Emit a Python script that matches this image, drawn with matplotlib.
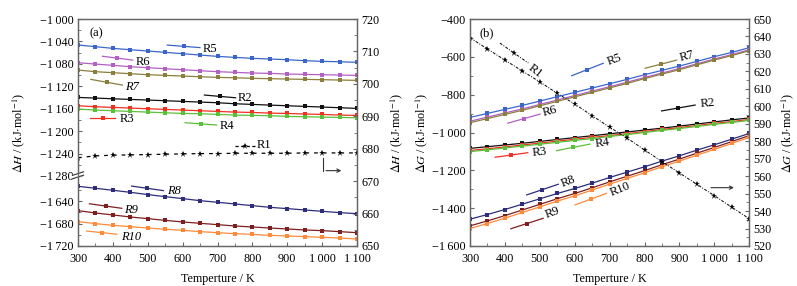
import numpy as np
import matplotlib
matplotlib.use("Agg")
from matplotlib import pyplot as plt
from matplotlib.ticker import FixedLocator

plt.rcParams['font.family'] = ['Liberation Serif', 'DejaVu Serif']
plt.rcParams['mathtext.fontset'] = 'stix'
plt.rcParams['font.size'] = 8.7

T = [300, 350, 400, 450, 500, 550, 600, 650, 700, 750, 800, 850, 900, 950, 1000, 1050, 1100]

# panel (a): enthalpy, left axis (broken) and right axis for R1
dH_R5 = [-1046.4, -1049.4, -1052.4, -1054.8, -1057.1, -1059.5, -1061.9, -1064.3, -1066.7,
         -1068.5, -1070.2, -1071.4, -1072.6, -1074.4, -1075.6, -1076.2, -1077.4]
dH_R6 = [-1078.0, -1080.4, -1082.7, -1085.1, -1086.9, -1088.7, -1090.5, -1092.3, -1094.0,
         -1095.2, -1096.4, -1097.0, -1098.2, -1098.8, -1099.4, -1100.0, -1100.6]
dH_R7 = [-1091.1, -1094.0, -1095.8, -1097.6, -1099.4, -1100.6, -1101.8, -1103.0, -1104.2,
         -1104.8, -1105.9, -1106.5, -1107.1, -1107.7, -1108.3, -1108.9, -1109.5]
dH_R2 = [-1139.9, -1141.1, -1142.3, -1143.5, -1144.6, -1145.8, -1147.0, -1148.2, -1149.4,
         -1151.2, -1152.4, -1153.6, -1154.8, -1155.9, -1157.1, -1158.3, -1159.5]
dH_R3 = [-1154.8, -1156.5, -1157.7, -1158.9, -1160.1, -1161.3, -1162.5, -1163.7, -1164.9,
         -1166.1, -1166.7, -1167.9, -1168.5, -1169.6, -1170.2, -1171.4, -1172.0]
dH_R4 = [-1160.7, -1162.5, -1163.7, -1164.9, -1166.1, -1167.3, -1168.5, -1169.0, -1170.2,
         -1171.4, -1172.0, -1172.6, -1173.8, -1174.4, -1175.0, -1175.6, -1176.2]
dH_R8 = [-1613.5, -1617.0, -1620.6, -1624.2, -1628.3, -1631.9, -1635.5, -1639.1, -1642.0,
         -1645.0, -1648.0, -1651.0, -1653.3, -1655.7, -1658.1, -1660.5, -1662.3]
dH_R9 = [-1656.9, -1661.1, -1664.6, -1668.2, -1671.2, -1674.2, -1677.1, -1679.5, -1681.9,
         -1684.3, -1686.1, -1687.9, -1689.6, -1691.4, -1692.6, -1694.4, -1696.2]
dH_R10 = [-1676.5, -1680.1, -1683.1, -1685.5, -1687.9, -1690.2, -1692.0, -1694.4, -1696.2,
          -1698.0, -1699.2, -1701.0, -1702.1, -1703.3, -1704.5, -1705.7, -1707.5]
dH_R1 = [677.2, 677.8, 678.0, 678.1, 678.2, 678.3, 678.4, 678.5, 678.5,
         678.6, 678.6, 678.6, 678.6, 678.7, 678.7, 678.7, 678.7]

# panel (b): Gibbs energy, left axis and right axis for R1
dG_R5 = [-920.3, -899.1, -877.9, -856.8, -833.9, -810.9, -788.0, -765.1, -742.2,
         -719.2, -694.5, -671.6, -648.7, -624.0, -599.3, -576.4, -551.7]
dG_R6 = [-940.3, -918.5, -896.8, -875.1, -851.7, -828.1, -804.6, -781.2, -757.7,
         -734.1, -708.9, -685.4, -662.0, -636.7, -611.4, -588.0, -562.7]
dG_R7 = [-948.3, -926.4, -904.4, -882.6, -858.9, -835.2, -811.5, -787.9, -764.2,
         -740.5, -715.0, -691.4, -667.7, -642.3, -616.8, -593.2, -567.7]
dG_R2 = [-1084, -1075, -1066, -1057, -1047, -1037, -1027, -1017, -1007,
         -997, -987, -977, -966, -955, -944, -933, -923]
dG_R3 = [-1095, -1086, -1076, -1066, -1056, -1046, -1036, -1026, -1016,
         -1006, -995, -984, -974, -963, -952, -942, -931]
dG_R4 = [-1101, -1092, -1082, -1072, -1062, -1052, -1042, -1032, -1021,
         -1011, -1000, -989, -979, -968, -957, -947, -936]
dG_R8 = [-1458.2, -1433.5, -1407.1, -1378.8, -1350.6, -1322.4, -1296.0, -1267.7, -1237.7,
         -1209.5, -1181.3, -1151.3, -1123.1, -1093.1, -1064.9, -1034.9, -1005.0]
dG_R9 = [-1493.5, -1467.3, -1439.4, -1409.6, -1379.9, -1350.2, -1322.3, -1292.5, -1261.0,
         -1231.3, -1201.6, -1170.1, -1140.4, -1108.9, -1079.2, -1047.7, -1016.3]
dG_R10 = [-1507.6, -1481.1, -1452.9, -1422.8, -1392.9, -1362.9, -1334.7, -1304.6, -1272.9,
          -1242.9, -1212.9, -1181.1, -1151.2, -1119.4, -1089.4, -1057.6, -1026.0]
dG_R1 = [639.3, 632.8, 626.5, 620.2, 614.0, 607.4, 601.3, 594.6, 588.0,
         581.8, 575.0, 568.3, 561.8, 555.3, 548.8, 542.2, 535.6]

colors = {'R5': '#3a66cc', 'R6': '#b35fc4', 'R7': '#8a7f3c', 'R2': '#111111',
          'R3': '#f03020', 'R4': '#5cbf3a', 'R8': '#2d2d7a', 'R9': '#7d1f1f',
          'R10': '#ff8a3c', 'R1': '#111111'}

series_a = [('R5', dH_R5), ('R6', dH_R6), ('R7', dH_R7), ('R2', dH_R2), ('R3', dH_R3),
            ('R4', dH_R4), ('R8', dH_R8), ('R9', dH_R9), ('R10', dH_R10)]
series_b = [('R5', dG_R5), ('R6', dG_R6), ('R7', dG_R7), ('R2', dG_R2), ('R3', dG_R3),
            ('R4', dG_R4), ('R8', dG_R8), ('R9', dG_R9), ('R10', dG_R10)]

# label leaders (axes fraction): x0, y0, x1, y1, text x, text y, rotation, ha
labels_a = {
    'R5': (0.320, 0.885, 0.437, 0.874, 0.447, 0.866, 0, 'left'),
    'R6': (0.087, 0.836, 0.196, 0.819, 0.208, 0.812, 0, 'left'),
    'R7': (0.046, 0.734, 0.159, 0.709, 0.168, 0.702, 0, 'left'),
    'R2': (0.453, 0.665, 0.565, 0.653, 0.572, 0.651, 0, 'left'),
    'R3': (0.043, 0.563, 0.133, 0.563, 0.148, 0.559, 0, 'left'),
    'R4': (0.384, 0.543, 0.497, 0.533, 0.506, 0.530, 0, 'left'),
    'R8': (0.192, 0.264, 0.306, 0.244, 0.318, 0.242, 0, 'left'),
    'R9': (0.041, 0.186, 0.157, 0.166, 0.165, 0.159, 0, 'left'),
    'R10': (0.031, 0.066, 0.139, 0.052, 0.154, 0.041, 0, 'left'),
}
italic_a = ('R7', 'R8', 'R9', 'R10')
labels_b = {
    'R5': (0.364, 0.750, 0.477, 0.805, 0.516, 0.822, 20, 'center'),
    'R7': (0.627, 0.783, 0.740, 0.819, 0.776, 0.837, 15, 'center'),
    'R6': (0.135, 0.541, 0.251, 0.581, 0.286, 0.595, 15, 'center'),
    'R2': (0.686, 0.595, 0.806, 0.621, 0.850, 0.630, 5, 'center'),
    'R3': (0.090, 0.391, 0.207, 0.411, 0.250, 0.415, 6, 'center'),
    'R4': (0.310, 0.420, 0.430, 0.449, 0.473, 0.455, 8, 'center'),
    'R8': (0.203, 0.225, 0.316, 0.272, 0.352, 0.285, 22, 'center'),
    'R9': (0.146, 0.076, 0.262, 0.122, 0.294, 0.145, 20, 'center'),
    'R10': (0.376, 0.181, 0.489, 0.232, 0.537, 0.250, 22, 'center'),
}

frame_col = '#666666'


def style_axes(ax):
    for s in ax.spines.values():
        s.set_color(frame_col)
        s.set_linewidth(0.9)
    ax.tick_params(which='both', direction='in', color=frame_col, labelsize=8.7, pad=3)
    ax.tick_params(axis='x', which='both', pad=5)
    ax.tick_params(which='major', length=3)
    ax.tick_params(which='minor', length=2)


def fmt(v):
    s = '{:,}'.format(int(abs(v))).replace(',', '\u2009')
    return ('\u2212' if v < 0 else '') + s


def leader(ax, name, spec, italic=False):
    x0, y0, x1, y1, tx, ty, rot, ha = spec
    ax.plot([x0, (x0 + x1) / 2, x1], [y0, (y0 + y1) / 2, y1], color=colors[name], lw=0.9,
            marker='s', markevery=[1], ms=2.5, mew=0, transform=ax.transAxes)
    ax.text(tx, ty, name, transform=ax.transAxes, rotation=rot, ha=ha, va='center',
            fontsize=9, fontstyle='italic' if italic else 'normal')


fig = plt.figure(figsize=(7.97, 2.86), dpi=100)

# ---------- panel (a) ----------
ax1 = fig.add_axes([78 / 797, 40 / 286, 279 / 797, 227 / 286])


def fwd(y):
    return np.interp(y, [-1e6, -1600, -1282, 1e6], [-1e6 + 315, -1285, -1282, 1e6])


def inv(y):
    return np.interp(y, [-1e6 + 315, -1285, -1282, 1e6], [-1e6, -1600, -1282, 1e6])


ax1.set_yscale('function', functions=(fwd, inv))
for name, vals in series_a:
    ax1.plot(T, vals, color=colors[name], lw=0.9, marker='s', ms=2.3, mew=0)
ax1.set_xlim(300, 1100)
ax1.set_ylim(-1720, -1000)
yt = [-1000, -1040, -1080, -1120, -1160, -1200, -1240, -1280, -1640, -1680, -1720]
ax1.yaxis.set_major_locator(FixedLocator(yt))
ax1.set_yticklabels([fmt(v) for v in yt])
ax1.yaxis.set_minor_locator(FixedLocator([-1020, -1060, -1100, -1140, -1180, -1220, -1260,
                                          -1620, -1660, -1700]))
xt = [300, 400, 500, 600, 700, 800, 900, 1000, 1100]
ax1.xaxis.set_major_locator(FixedLocator(xt))
ax1.set_xticklabels([fmt(v) for v in xt])
ax1.xaxis.set_minor_locator(FixedLocator([350, 450, 550, 650, 750, 850, 950, 1050]))
style_axes(ax1)
ax1.tick_params(axis='y', which='both', right=False)
ax1.set_xlabel('Temperture / K', fontsize=8.7)
ax1.xaxis.set_label_coords(0.5, -0.12)
ax1.set_ylabel(r'$\Delta\mathit{H}$ / (kJ$\cdot$mol$^{-1}$)', fontsize=8.7)
ax1.yaxis.set_label_coords(-0.183, 0.5)

ax1r = ax1.twinx()
ax1r.plot(T, dH_R1, color='black', lw=0.9, ls=(0, (3, 4)), marker='*', ms=5, mew=0)
ax1r.set_ylim(650, 720)
ax1r.yaxis.set_major_locator(FixedLocator(list(range(650, 721, 10))))
ax1r.yaxis.set_minor_locator(FixedLocator(list(range(655, 720, 10))))
style_axes(ax1r)
ax1r.set_ylabel(r'$\Delta\mathit{H}$ / (kJ$\cdot$mol$^{-1}$)', fontsize=8.7, rotation=90)
ax1r.yaxis.set_label_coords(1.112, 0.5)

for name, spec in labels_a.items():
    leader(ax1, name, spec, italic=name in italic_a)
ax1.plot([0.563, 0.5985, 0.634], [0.442, 0.442, 0.442], color='black', lw=0.9, ls=(0, (2.5, 2)),
         marker='*', markevery=[1], ms=5, mew=0, transform=ax1.transAxes)
ax1.text(0.642, 0.447, 'R1', transform=ax1.transAxes, va='center', ha='left', fontsize=9)
ax1.annotate('', xy=(0.954, 0.332), xytext=(0.879, 0.332), xycoords='axes fraction',
             arrowprops=dict(arrowstyle='->', lw=0.8, color='#333333', mutation_scale=6))
ax1.plot([0.879, 0.879], [0.386, 0.332], color='#333333', lw=0.8, transform=ax1.transAxes)
ax1.text(0.067, 0.937, '(a)', transform=ax1.transAxes, ha='center', va='center', fontsize=9)

# break marks on the left spine
ax1.fill([-0.02, 0.02, 0.02, -0.02], [0.296, 0.312, 0.327, 0.311], color='white',
         transform=ax1.transAxes, clip_on=False, zorder=5)
for dy in (0.0, 0.015):
    ax1.plot([-0.02, 0.02], [0.296 + dy, 0.312 + dy], color='#333333', lw=0.8,
             transform=ax1.transAxes, clip_on=False, zorder=6)

# ---------- panel (b) ----------
ax2 = fig.add_axes([470 / 797, 40 / 286, 279.3 / 797, 227 / 286])
for name, vals in series_b:
    ax2.plot(T, vals, color=colors[name], lw=0.9, marker='s', ms=2.3, mew=0)
ax2.set_xlim(300, 1100)
ax2.set_ylim(-1600, -400)
yt2 = [-1600, -1400, -1200, -1000, -800, -600, -400]
ax2.yaxis.set_major_locator(FixedLocator(yt2))
ax2.set_yticklabels([fmt(v) for v in yt2])
ax2.yaxis.set_minor_locator(FixedLocator([-1500, -1300, -1100, -900, -700, -500]))
ax2.xaxis.set_major_locator(FixedLocator(xt))
ax2.set_xticklabels([fmt(v) for v in xt])
ax2.xaxis.set_minor_locator(FixedLocator([350, 450, 550, 650, 750, 850, 950, 1050]))
style_axes(ax2)
ax2.tick_params(axis='y', which='both', right=False)
ax2.set_xlabel('Temperture / K', fontsize=8.7)
ax2.xaxis.set_label_coords(0.5, -0.12)
ax2.set_ylabel(r'$\Delta\mathit{G}$ / (kJ$\cdot$mol$^{-1}$)', fontsize=8.7)
ax2.yaxis.set_label_coords(-0.145, 0.5)

ax2r = ax2.twinx()
ax2r.plot(T, dG_R1, color='black', lw=0.7, ls=(0, (3, 1.5, 1, 1.5)), marker='*', ms=5, mew=0)
ax2r.set_ylim(520, 650)
ax2r.yaxis.set_major_locator(FixedLocator(list(range(520, 651, 10))))
ax2r.yaxis.set_minor_locator(FixedLocator(list(range(525, 650, 10))))
style_axes(ax2r)
ax2r.set_ylabel(r'$\Delta\mathit{G}$ / (kJ$\cdot$mol$^{-1}$)', fontsize=8.7, rotation=90)
ax2r.yaxis.set_label_coords(1.108, 0.5)

for name, spec in labels_b.items():
    leader(ax2, name, spec)
ax2.plot([0.107, 0.158, 0.209], [0.894, 0.850, 0.806], color='black', lw=0.7,
         ls=(0, (3, 1.5, 1, 1.5)), marker='*', markevery=[1], ms=5, mew=0, transform=ax2.transAxes)
ax2.text(0.233, 0.772, 'R1', transform=ax2.transAxes, rotation=-38, ha='center', va='center',
         fontsize=9)
ax2.annotate('', xy=(0.955, 0.257), xytext=(0.853, 0.257), xycoords='axes fraction',
             arrowprops=dict(arrowstyle='->', lw=0.8, color='#333333', mutation_scale=6))
ax2.text(0.060, 0.937, '(b)', transform=ax2.transAxes, ha='center', va='center', fontsize=9)

fig.savefig('out.png', dpi=100)
